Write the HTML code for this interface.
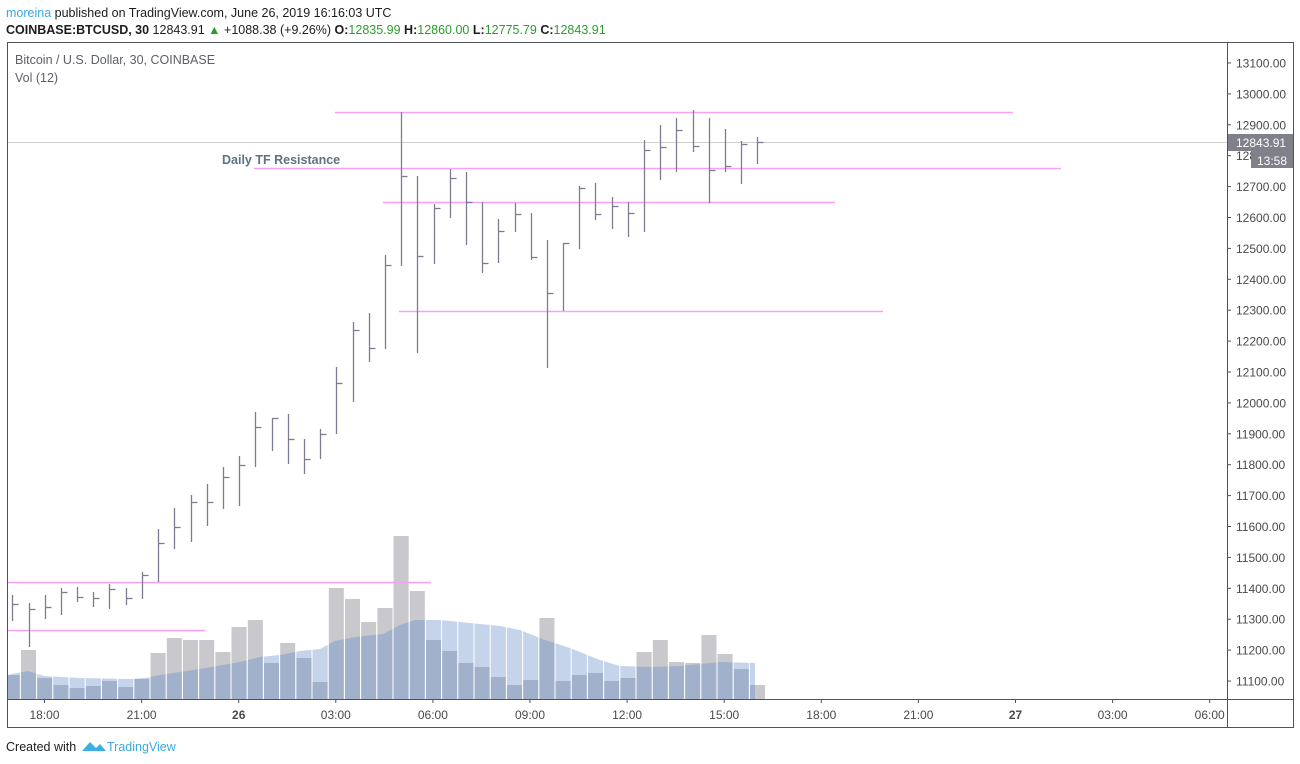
<!DOCTYPE html>
<html><head><meta charset="utf-8"><style>
body{margin:0;background:#fff;width:1300px;height:764px;overflow:hidden;font-family:"Liberation Sans",sans-serif}
svg{position:absolute;left:0;top:0}
</style></head><body>
<svg id="s" width="1300" height="764" xmlns="http://www.w3.org/2000/svg" font-family="Liberation Sans, sans-serif">
<defs><clipPath id="cp"><rect x="8" y="43" width="1219" height="656"/></clipPath></defs>
<text x="6" y="17" font-size="12.5" fill="#1c1c1c"><tspan fill="#3ba8e0">moreina</tspan> published on TradingView.com, June 26, 2019 16:16:03 UTC</text>
<text x="6" y="34" font-size="12.5" fill="#1c1c1c"><tspan font-weight="bold">COINBASE:BTCUSD, 30</tspan> 12843.91 <tspan fill="#2a9d2a">▲</tspan> +1088.38 (+9.26%) <tspan font-weight="bold">O:</tspan><tspan fill="#2a9d2a">12835.99</tspan> <tspan font-weight="bold">H:</tspan><tspan fill="#2a9d2a">12860.00</tspan> <tspan font-weight="bold">L:</tspan><tspan fill="#2a9d2a">12775.79</tspan> <tspan font-weight="bold">C:</tspan><tspan fill="#2a9d2a">12843.91</tspan></text>
<g id="vol" clip-path="url(#cp)"></g>
<g id="lines"></g>
<g id="bars" stroke="#7b7d92" stroke-width="1.3"></g>
<rect x="7.5" y="42.5" width="1286" height="685" fill="none" stroke="#50535e" stroke-width="1"/>
<line x1="7" y1="699.5" x2="1293" y2="699.5" stroke="#50535e"/>
<line x1="1227.5" y1="42" x2="1227.5" y2="727" stroke="#50535e"/>
<text x="15" y="64" font-size="12.5" fill="#5d606b">Bitcoin / U.S. Dollar, 30, COINBASE</text>
<text x="15" y="82" font-size="12.5" fill="#5d606b">Vol (12)</text>
<text x="222" y="164" font-size="12.5" font-weight="bold" fill="#5d7383">Daily TF Resistance</text>
<g id="axis" font-size="12" fill="#4a4a4a"></g>
<text x="6" y="751" font-size="12.5" fill="#1c1c1c">Created with</text>
<path d="M82 751 L90 742 L96 748 L100 744 L106 751 Z" fill="#3bb0e0"/>
<text x="107" y="751" font-size="12.5" fill="#3ba8e0">TradingView</text>
</svg>
<script>
const NS="http://www.w3.org/2000/svg";
function el(p,t,a,txt){const e=document.createElementNS(NS,t);for(const k in a)e.setAttribute(k,a[k]);if(txt!=null)e.textContent=txt;document.getElementById(p).appendChild(e);return e;}
const B=[[595,621,604],[603,647,609],[595,619,607],[588,615,592],[587,602,597],[592,607,598],[584,609,589],[588,605,598],[572,599,575],[529,582,543],[508,549,527],[495,542,502],[484,526,502],[467,509,477],[456,506,465],[412,467,427],[418,451,418],[414,464,439],[439,474,459],[429,459,434],[367,434,383],[322,402,330],[313,362,348],[255,349,265],[112,266,176],[176,353,256],[204,264,208],[169,218,178],[172,245,202],[202,273,263],[219,263,231],[203,232,214],[213,260,257],[240,368,293],[243,311,243],[186,249,188],[183,220,214],[197,229,206],[202,237,213],[140,232,150],[125,180,147],[118,172,130],[110,152,146],[118,203,170],[129,172,166],[141,184,144],[137,164,142]];
const V=[675,650,678,685,688,686,681,687,679,653,638,640,640,652,627,620,663,643,658,682,588,599,622,608,536,591,640,651,663,667,677,685,680,618,681,675,673,681,678,652,640,662,663,635,654,669,685];
const X=i=>12.3+16.2*i;
V.forEach((v,i)=>el("vol","rect",{x:X(i)-7.6,y:v,width:15.2,height:699-v,fill:"#c8c8cd"}));
const ma=[[8,675],[12,674],[28,671],[44,676],[80,678],[130,679],[145,678],[160,675],[200,669],[240,662],[260,657],[280,655],[300,651],[320,649],[335,641],[355,637],[383,634],[400,625],[415,620],[440,620],[460,622],[500,626],[520,630],[545,640],[570,648],[600,660],[620,666],[650,667],[680,666],[700,664],[720,662],[755,663]];
let d="M8 699 "+ma.map(p=>"L"+p[0]+" "+p[1]).join(" ")+" L755 699 Z";
el("vol","path",{d:d,fill:"rgba(95,135,200,0.36)"});
for(let i=0;i<=V.length;i++){const x=X(i)-8.1;el("vol","line",{x1:x,y1:560,x2:x,y2:699,stroke:"#fff",'stroke-width':1});}
el("lines","line",{x1:8,y1:142.5,x2:1227,y2:142.5,stroke:"#d0d0d0"});
[[335,1013,112],[254,1061,168],[383,835,202],[399,883,311],[8,431,582],[8,205,630]].forEach(l=>el("lines","line",{x1:l[0],y1:l[2]+.5,x2:l[1],y2:l[2]+.5,stroke:"#f7a0f5",'stroke-width':1.6}));
B.forEach((b,i)=>{const x=Math.round(X(i))+.5;el("bars","line",{x1:x,y1:b[0],x2:x,y2:b[1]});el("bars","line",{x1:x,y1:b[2]+.5,x2:x+6,y2:b[2]+.5});});
for(let k=0;k<21;k++){const p=13100-100*k;const y=63+k*30.9;if(y>692)break;
el("axis","line",{x1:1227,y1:y,x2:1231,y2:y,stroke:"#50535e"});
el("axis","text",{x:1236,y:y+4.5},p.toFixed(2));}
el("axis","rect",{x:1228,y:134,width:65,height:17,fill:"#7f808a"});
el("axis","text",{x:1236,y:147,fill:"#fff"},"12843.91");
el("axis","rect",{x:1251,y:151,width:42,height:17,fill:"#7f808a"});
el("axis","text",{x:1257,y:165,fill:"#fff"},"13:58");
const T=["18:00","21:00","26","03:00","06:00","09:00","12:00","15:00","18:00","21:00","27","03:00","06:00"];
T.forEach((t,i)=>{const x=44.5+97.1*i;el("axis","line",{x1:x,y1:700,x2:x,y2:703,stroke:"#50535e"});
const e=el("axis","text",{x:x,y:719,'text-anchor':"middle"},t);if(t.length<3)e.setAttribute("font-weight","bold");});
</script>
</body></html>
